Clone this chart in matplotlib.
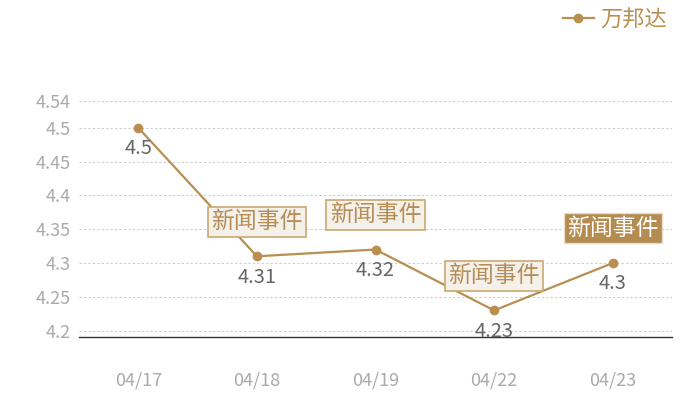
import matplotlib
matplotlib.use("Agg")
import matplotlib.pyplot as plt

plt.rcParams['font.family'] = ['Noto Sans CJK SC', 'DejaVu Sans']

dates = ["04/17", "04/18", "04/19", "04/22", "04/23"]
values = [4.5, 4.31, 4.32, 4.23, 4.3]
series_name = "万邦达"
yticks = [4.2, 4.25, 4.3, 4.35, 4.4, 4.45, 4.5, 4.54]
ytick_labels = ["4.2", "4.25", "4.3", "4.35", "4.4", "4.45", "4.5", "4.54"]
events = [(1, "新闻事件", False), (2, "新闻事件", False), (3, "新闻事件", False), (4, "新闻事件", True)]

LINE = "#b88f50"
fig = plt.figure(figsize=(7, 4), dpi=100)
ax = fig.add_axes([79/700, 63/400, (672-79)/700, (337-100.7)/400])

x = list(range(len(dates)))
ln, = ax.plot(x, values, color=LINE, lw=1.6, marker='o', ms=6, mec=LINE, mfc=LINE,
              zorder=3, label=series_name)

ax.set_xlim(-0.5, len(dates) - 0.5)
ax.set_ylim(4.1907, 4.54)
ax.set_yticks(yticks)
ax.set_yticklabels(ytick_labels)
ax.set_xticks(x)
ax.set_xticklabels(dates)
ax.tick_params(axis='both', length=0, labelsize=13, colors='#aaaaaa')
ax.tick_params(axis='x', pad=25)
ax.tick_params(axis='y', pad=6)
for s in ['top', 'right', 'left']:
    ax.spines[s].set_visible(False)
ax.spines['bottom'].set_color('#333333')
ax.spines['bottom'].set_linewidth(1)
ax.yaxis.grid(True, linestyle=(0, (2, 2)), color='#cccccc', lw=0.8)
ax.set_axisbelow(True)

for xi, v in zip(x, values):
    ax.annotate(f"{v:g}", (xi, v), xytext=(0, -15), textcoords='offset points',
                ha='center', va='center', fontsize=14.5, color='#666666', zorder=4)

for idx, txt, filled in events:
    if filled:
        bbox = dict(boxstyle='square,pad=0.15', fc='#b58c4f', ec='#e8dcc8', lw=1)
        tc = 'white'
    else:
        bbox = dict(boxstyle='square,pad=0.15', fc='#f4f0ea', ec='#c9a872', lw=1.2)
        tc = '#b58d55'
    ax.annotate(txt, (idx, values[idx]), xytext=(0, 25), textcoords='offset points',
                ha='center', va='center', fontsize=16.5, color=tc, bbox=bbox, zorder=5)

leg = fig.legend(handles=[ln], loc='upper right', bbox_to_anchor=(0.982, 1.03),
                 frameon=False, fontsize=16, labelcolor=LINE, handlelength=1.4,
                 handletextpad=0.3)

fig.savefig("out.png", dpi=100)
